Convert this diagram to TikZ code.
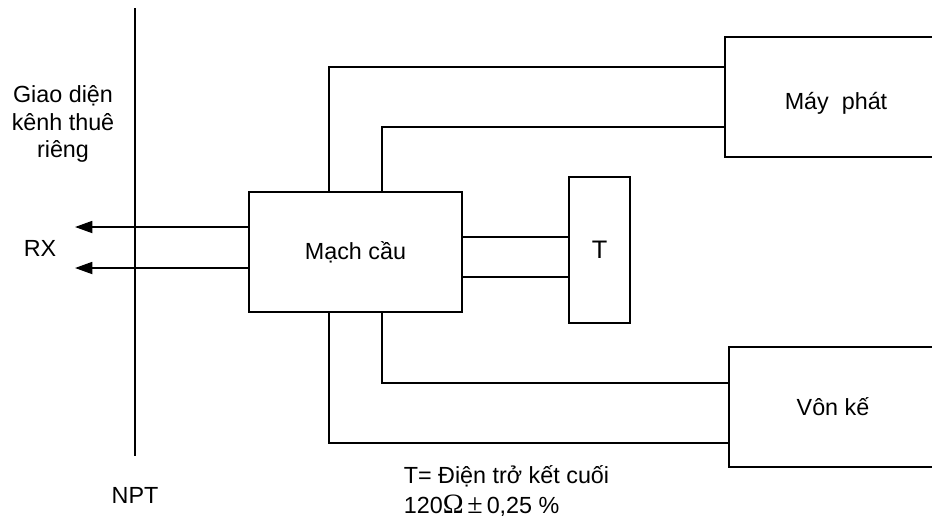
\documentclass[tikz,border=0pt]{standalone}
\usepackage{fontspec}
\setmainfont{Liberation Sans}
\newfontfamily\symserif{Liberation Serif}
\usetikzlibrary{arrows.meta}
\begin{document}
\begin{tikzpicture}[x=0.75pt,y=-0.75pt,
  line width=1.3pt,
  font=\fontsize{17.5}{20}\selectfont,
  blockbox/.style={draw, line width=1.3pt, inner sep=0pt},
  txt/.style={inner sep=0pt},
  conn/.style={line width=1.3pt},
  arr/.style={line width=1.3pt, -{Triangle[length=13pt,width=9pt]}}]
\useasboundingbox (0,0) rectangle (932,519);
\clip (0,0) rectangle (932,519);
% vertical NPT line
\coordinate (npttop) at (135,8);
\coordinate (nptbot) at (135,456);
\draw[conn] (npttop) -- (nptbot);
% blocks
\node[blockbox, minimum width=159.75pt, minimum height=90pt] (mc) at (355.5,252) {Mạch cầu};
\node[blockbox, minimum width=45.75pt, minimum height=109.5pt] (t) at (599.5,250) {\fontsize{19}{22}\selectfont T};
\node[blockbox, minimum width=210pt, minimum height=90pt] (mp) at (865,97) {};
\node[txt] (mptext) at (836,103) {Máy~ phát};
\node[blockbox, minimum width=207pt, minimum height=90pt] (vk) at (867,407) {};
\node[txt] (vktext) at (833,407) {Vôn kế};
% helper coordinates
\coordinate (a1) at (329,67);
\coordinate (a2) at (382,127);
\coordinate (b1) at (382,383);
\coordinate (b2) at (329,443);
\coordinate (t1) at (462,237);
\coordinate (t2) at (462,277);
\coordinate (rx1) at (75,227);
\coordinate (rx2) at (75,268);
% connectors to Máy phát
\draw[conn] (mc.north -| a1) |- (a1 -| mp.west);
\draw[conn] (mc.north -| a2) |- (a2 -| mp.west);
% connectors to Vôn kế
\draw[conn] (mc.south -| b1) |- (b1 -| vk.west);
\draw[conn] (mc.south -| b2) |- (b2 -| vk.west);
% connectors to T
\draw[conn] (t1 -| mc.east) -- (t1 -| t.west);
\draw[conn] (t2 -| mc.east) -- (t2 -| t.west);
% RX arrows
\draw[arr] (rx1 -| mc.west) -- (rx1);
\draw[arr] (rx2 -| mc.west) -- (rx2);
% labels
\node[txt, align=center, font=\fontsize{17.5}{20.5}\selectfont] (gd) at (63,124) {Giao diện\\kênh thuê\\riêng};
\node[txt] (rx) at (40,248) {RX};
\node[txt] (npt) at (135,495) {NPT};
\node[txt, align=left, anchor=west, font=\fontsize{17.5}{22.5}\selectfont] (note) at (403,491)
  {T= Điện trở kết cuối\\120{\symserif\fontsize{21}{22}\selectfont Ω}\,{\symserif\fontsize{21}{22}\selectfont ±}\,0,25 \%};
\end{tikzpicture}
\end{document}
